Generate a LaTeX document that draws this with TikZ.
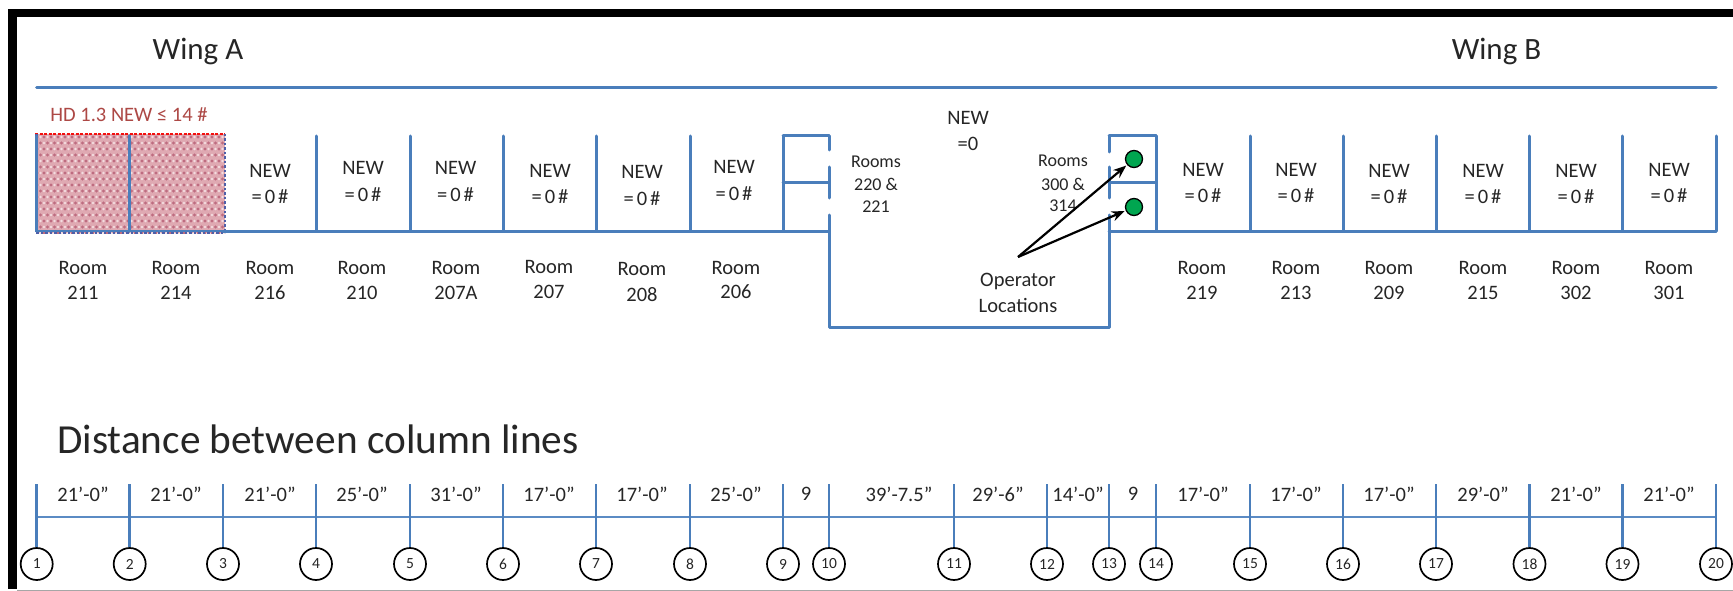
\documentclass[tikz,border=0pt]{standalone}
\usepackage{fontspec}
\setmainfont{Carlito}
\usetikzlibrary{arrows.meta}
\definecolor{wall}{HTML}{4A7EBB}
\definecolor{dimc}{HTML}{5B8BC4}
\definecolor{txt}{HTML}{262626}
\definecolor{hatch}{HTML}{C0504D}
\definecolor{pinkbg}{HTML}{DFA9B2}
\definecolor{dotdark}{HTML}{BE6C80}
\definecolor{dotlight}{HTML}{F3DCE0}
\definecolor{edgeblue}{HTML}{4F5FA8}
\definecolor{dotgreen}{HTML}{00A650}
\tikzset{
 x=1pt,y=-1pt,
 wallline/.style={draw=wall,line width=3pt,line cap=round,line join=round},
 dimline/.style={draw=dimc,line width=2pt},
 tickline/.style={draw=wall,line width=2.6pt},
 lab/.style={font=\fontsize{20.5}{20.5}\selectfont,text=txt,inner sep=0pt,anchor=center},
 smalllab/.style={font=\fontsize{18}{18}\selectfont,text=txt,inner sep=0pt,anchor=center},
 colnum/.style={ellipse,draw=black,line width=1.7pt,fill=white,minimum width=32pt,minimum height=32pt,inner sep=0pt,font=\fontsize{15.5}{15.5}\selectfont,text=txt},
 dot/.style={circle,draw=black,line width=1.3pt,fill=dotgreen,minimum size=17pt,inner sep=0pt},
 oparrow/.style={draw=black,line width=2.2pt,-{Stealth[length=13pt,width=10pt]},shorten >=1pt},
}
\usetikzlibrary{shapes.geometric}
\newcommand{\eqz}{=\hspace{3pt}0\hspace{3pt}\#}
\begin{document}
\begin{tikzpicture}
\useasboundingbox (0,0) rectangle (1733,591);
\fill[white] (0,0) rectangle (1733,591);
% frame
\fill[black] (8,9) rectangle (1733,17);
\fill[black] (8,9) rectangle (17,589);
\fill[black!35] (17,589.5) rectangle (1733,591);
% column coordinates
\foreach \n/\x in {1/36.7,2/129.7,3/223,4/316,5/410,6/503,7/596,8/690,9/783,10/829,11/954,12/1047,13/1109,14/1156,15/1250,16/1343,17/1436,18/1529.5,19/1622.5,20/1716}{
  \coordinate (top\n) at (\x,136);
  \coordinate (base\n) at (\x,231);
  \coordinate (tick\n) at (\x,484);
  \coordinate (dim\n) at (\x,517);
  \node[colnum] (num\n) at (\x,564) {\n};
}
% hazard area
\fill[pinkbg] (36,134) rectangle (225,233);
\begin{scope}
\clip (36,134) rectangle (225,233);
\foreach \r in {0,...,16}{
  \pgfmathsetmacro{\yy}{137+\r*6}
  \pgfmathsetmacro{\off}{mod(\r,2)*3.5}
  \foreach \c in {0,...,27}{
    \pgfmathsetmacro{\xx}{37+\c*7+\off}
    \fill[dotdark] (\xx,\yy) circle[radius=1.7pt];
    \fill[dotlight] (\xx+3.5,\yy) circle[radius=1.4pt];
  }
}
\end{scope}
\draw[edgeblue,line width=2.5pt,dotted] (36,232.5) -- (225,232.5);
\draw[red!80!hatch,line width=2pt,dashed,dash pattern=on 3pt off 1.5pt] (35,134) -- (225,134);
\draw[edgeblue,line width=2.5pt,dotted] (225,134) -- (225,232);
\draw[edgeblue,line width=3pt] (36.7,134) -- (36.7,232);
% wings and top line
\node[font=\fontsize{31}{31}\selectfont,text=txt,inner sep=0pt] (wa) at (198,52) {Wing A};
\node[font=\fontsize{31}{31}\selectfont,text=txt,inner sep=0pt] (wb) at (1496.5,52) {Wing B};
\coordinate (ruleL) at (36.7,88);
\coordinate (ruleR) at (1716,88);
\draw[wallline] (ruleL) -- (ruleR);
\node[font=\fontsize{20.5}{20.5}\selectfont,text=hatch!90!black,inner sep=0pt] (hd) at (129,115) {HD 1.3 NEW ≤ 14 \#};
% rooms
\foreach \n in {2,4,5,6,7,8,9,14,15,16,17,18,19,20}{
  \draw[wallline] (top\n) -- (base\n);
}
\draw[wallline] (base3) -- (base9) -- (base10);
\draw[wallline] (top9) -- (top10 |- top9);
\coordinate (h9) at (783,183); \coordinate (h10) at (829,183);
\draw[wallline] (h9) -- (h10);
\draw[wallline] (829,136) -- (829,150);
\draw[wallline] (829,167) -- (829,198);
\coordinate (c10) at (829,327); \coordinate (c13) at (1109,327);
\draw[wallline] (829,215) -- (c10) -- (c13) -- (1109,215);
\draw[wallline] (1109,167) -- (1109,198);
\draw[wallline] (1109,136) -- (1109,152);
\draw[wallline] (top13) -- (top14);
\coordinate (h13) at (1109,183); \coordinate (h14) at (1156,183);
\draw[wallline] (h13) -- (h14);
\draw[wallline] (base13) -- (base20);
% NEW labels
\foreach \x/\ya/\yb [count=\i] in {270/171/197,363/168/195,455.5/168/195,550/171/197,642/172/199,734/167/194,1203/170/196,1296/170/196,1389/171/197,1483/171/197,1576/171/197,1669/170/196}{
  \node[lab] (new\i) at (\x,\ya) {NEW};
  \node[lab] (eq\i) at (\x,\yb) {\eqz};
}
\node[lab] (newc) at (968,118) {NEW};
\node[lab] (eqc) at (968,144) {=0};
% room labels
\foreach \x/\r/\ya/\yb [count=\i] in {83/211/268/293,176/214/268/293,270/216/268/293,362/210/268/293,456/207A/268/293,549/207/267/292,642/208/269/295,736/206/268/292,1202/219/268/293,1296/213/268/293,1389/209/268/293,1483/215/268/293,1576/302/268/293,1669/301/268/293}{
  \node[lab] (room\i) at (\x,\ya) {Room};
  \node[lab] (rnum\i) at (\x,\yb) {\r};
}
\node[smalllab] (r1) at (876,162) {Rooms};
\node[smalllab] (r2) at (876,184) {220 \&};
\node[smalllab] (r3) at (876,207) {221};
\node[smalllab] (s1) at (1063,161) {Rooms};
\node[smalllab] (s2) at (1063,184) {300 \&};
\node[smalllab] (s3) at (1063,206) {314};
% operators
\node[lab] (op1) at (1018,281) {Operator};
\node[lab] (op2) at (1018,305) {Locations};
\coordinate (opstart) at (1018,257);
\node[dot] (g1) at (1134,159) {};
\node[dot] (g2) at (1134,207) {};
\draw[oparrow] (opstart) -- (g1);
\draw[oparrow] (opstart) -- (g2);
% distances
\node[font=\fontsize{41.3}{41.3}\selectfont,text=txt,inner sep=0pt,anchor=west] (dist) at (57,439) {Distance between column lines};
\draw[dimline] (dim1) -- (dim20);
\foreach \n in {1,...,20}{
  \draw[tickline] (tick\n) -- (num\n);
}
\foreach \x/\t [count=\i] in {83/21’-0”,176/21’-0”,270/21’-0”,362/25’-0”,456/31’-0”,549/17’-0”,642/17’-0”,736/25’-0”,806/9,899/39’-7.5”,998/29’-6”,1078/14’-0”,1133/9,1203/17’-0”,1296/17’-0”,1389/17’-0”,1483/29’-0”,1576/21’-0”,1669/21’-0”}{
  \node[lab] (d\i) at (\x,494) {\t};
}
% walls drawn over hazard area
\draw[wallline] (top1) -- (base1);
\draw[wallline] (top3 -| 129.7,136) -- (base2);
\draw[wall,line width=2pt] (base1) -- (base3);
\end{tikzpicture}
\end{document}
